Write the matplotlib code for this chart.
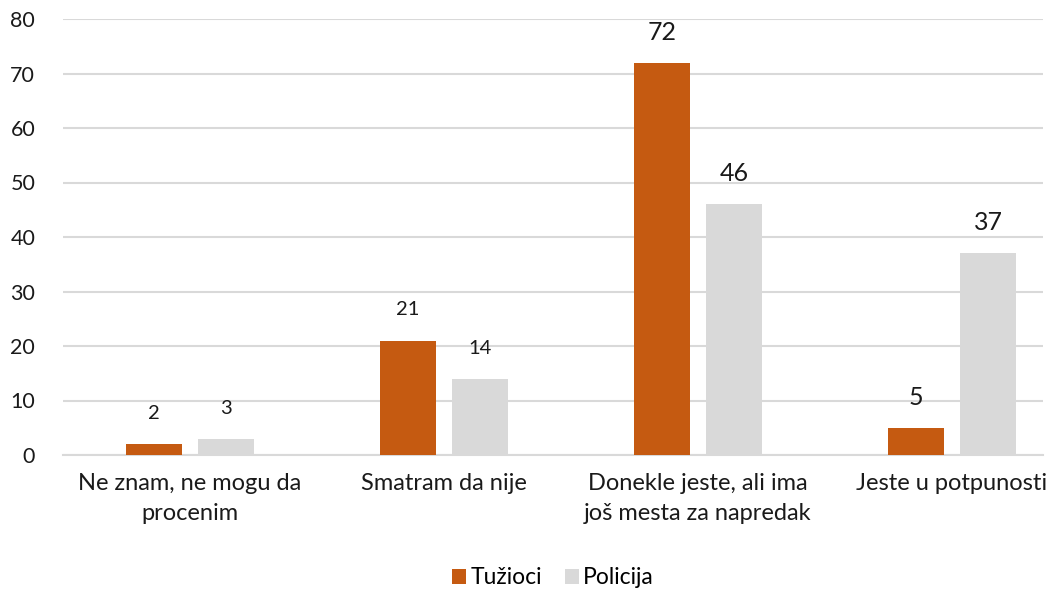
import matplotlib.pyplot as plt
import numpy as np

categories = ["Ne znam, ne mogu da\nprocenim", "Smatram da nije",
              "Donekle jeste, ali ima\njoš mesta za napredak", "Jeste u potpunosti"]
tuzioci = [2, 21, 72, 5]
policija = [3, 14, 46, 37]
# label size per bar (reference uses bigger text on some)
size_t = [14.5, 14.5, 18, 18]
size_p = [14.5, 14.5, 18, 18]

plt.rcParams['font.family'] = ['Lato', 'DejaVu Sans']

fig = plt.figure(figsize=(10.63, 5.90), dpi=100)
ax = fig.add_axes([63 / 1063, 1 - 455 / 590, 980 / 1063, 436 / 590])

x = np.arange(len(categories))
w = 0.22
off = 0.142
c_t = "#C55A11"
c_p = "#D9D9D9"

b1 = ax.bar(x - off, tuzioci, w, color=c_t, label="Tužioci", zorder=3)
b2 = ax.bar(x + off, policija, w, color=c_p, label="Policija", zorder=3)

for rects, vals, sizes in [(b1, tuzioci, size_t), (b2, policija, size_p)]:
    for r, v, s in zip(rects, vals, sizes):
        ax.annotate(str(v), (r.get_x() + r.get_width() / 2, v),
                    xytext=(0, 22), textcoords="offset points",
                    ha="center", va="center", fontsize=s, color="#1a1a1a")

ax.set_xlim(-0.5, (1043 - 190) / 254)
ax.set_ylim(0, 80)
ax.set_yticks(range(0, 81, 10))
ax.set_xticks(x)
ax.set_xticklabels(categories, fontsize=17, color="#1a1a1a", linespacing=1.5)
ax.tick_params(axis="y", labelsize=15.5, colors="#1a1a1a", length=0, pad=20)
ax.tick_params(axis="x", length=0, pad=13)
ax.grid(axis="y", color="#D9D9D9", linewidth=1.5, zorder=0)
for sp in ["top", "right", "left"]:
    ax.spines[sp].set_visible(False)
ax.spines["bottom"].set_color("#D9D9D9")
ax.spines["bottom"].set_linewidth(1.5)

fig.legend(loc="center", bbox_to_anchor=(553 / 1063, 1 - 578 / 590), ncol=2,
           frameon=False, fontsize=16.5, handlelength=0.6, handleheight=0.6,
           handletextpad=0.2, columnspacing=1.0)

fig.savefig("out.png", dpi=100)
